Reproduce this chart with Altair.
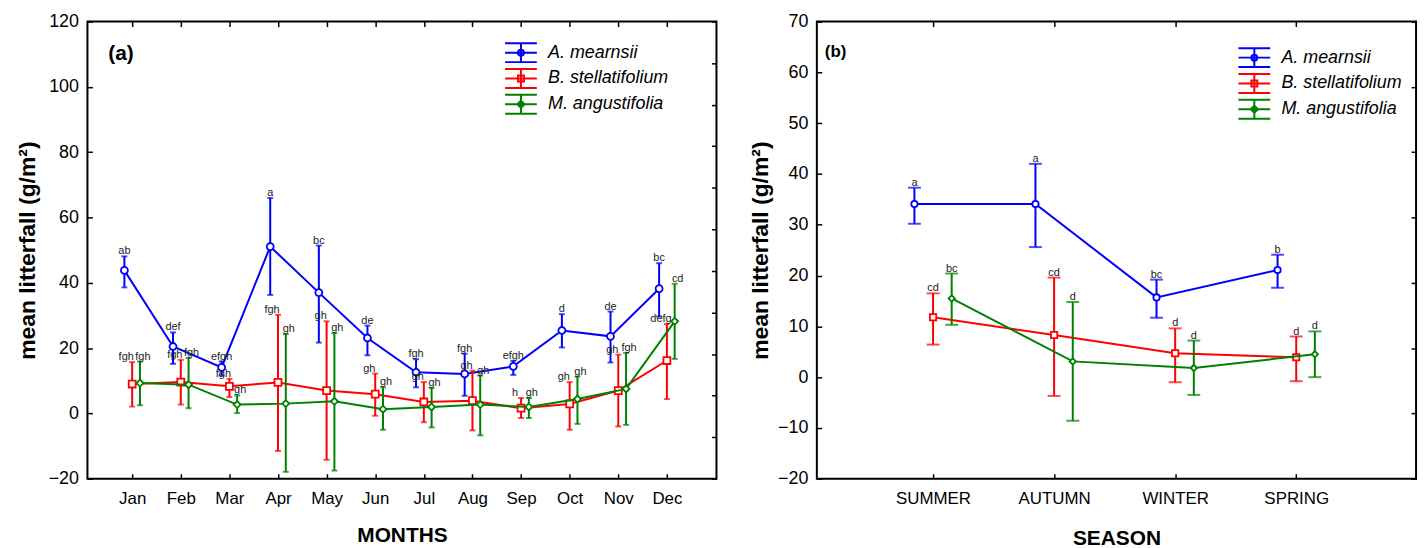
import altair as alt
import pandas as pd

# ---------------- data ----------------
names = ["A. mearnsii", "B. stellatifolium", "M. angustifolia"]

months = ["Jan", "Feb", "Mar", "Apr", "May", "Jun", "Jul", "Aug", "Sep", "Oct", "Nov", "Dec"]
am_mean = [43.8, 20.5, 14.1, 51.1, 37.0, 23.1, 12.6, 12.1, 14.4, 25.4, 23.6, 38.2]
am_lo = [38.6, 15.2, 11.6, 36.3, 21.7, 17.8, 8.0, 5.4, 11.8, 20.2, 15.6, 29.7]
am_hi = [48.1, 24.8, 15.9, 66.0, 51.4, 26.9, 16.6, 18.3, 16.1, 30.4, 31.2, 46.0]
bs_mean = [9.0, 9.6, 8.3, 9.5, 7.0, 5.9, 3.5, 3.9, 1.6, 2.9, 7.0, 16.2]
bs_lo = [2.1, 2.7, 5.0, -11.5, -14.2, -0.7, -2.7, -5.2, -1.4, -5.0, -4.0, 4.4]
bs_hi = [15.7, 16.4, 10.6, 30.2, 28.2, 12.2, 9.6, 13.1, 4.7, 9.6, 18.0, 27.4]
ma_mean = [9.3, 8.8, 2.7, 3.0, 3.7, 1.3, 2.0, 2.7, 2.0, 4.4, 7.5, 28.2]
ma_lo = [2.5, 1.6, 0.1, -17.9, -17.5, -5.0, -4.3, -6.7, -1.4, -3.2, -3.5, 16.7]
ma_hi = [15.9, 17.0, 5.5, 24.3, 24.6, 8.0, 7.8, 11.6, 4.7, 11.3, 18.5, 39.7]
am_let = ["ab", "def", "efgh", "a", "bc", "de", "fgh", "fgh", "efgh", "d", "de", "bc"]
bs_let = ["fgh", "fgh", "fgh", "fgh", "gh", "gh", "gh", "gh", "h", "gh", "gh", "defg"]
ma_let = ["fgh", "fgh", "gh", "gh", "gh", "gh", "gh", "gh", "gh", "gh", "fgh", "cd"]

seasons = ["SUMMER", "AUTUMN", "WINTER", "SPRING"]
s_am_mean = [34.1, 34.1, 15.7, 21.1]
s_am_lo = [30.2, 25.6, 11.7, 17.6]
s_am_hi = [37.3, 42.0, 19.2, 24.1]
s_bs_mean = [11.8, 8.3, 4.7, 3.9]
s_bs_lo = [6.4, -3.7, -1.0, -0.8]
s_bs_hi = [16.5, 19.6, 9.6, 8.0]
s_ma_mean = [15.5, 3.1, 1.8, 4.5]
s_ma_lo = [10.3, -8.6, -3.5, 0.0]
s_ma_hi = [20.4, 14.8, 7.2, 9.0]
s_am_let = ["a", "a", "bc", "b"]
s_bs_let = ["cd", "cd", "d", "d"]
s_ma_let = ["bc", "d", "d", "d"]

y_ticks_a = [-20, 0, 20, 40, 60, 80, 100, 120]
y_ticks_b = [-20, -10, 0, 10, 20, 30, 40, 50, 60, 70]

# ---------------- style ----------------
FONT = "Liberation Sans"
COLORS = ["#0000FF", "#FF0000", "#008000"]
SHAPES = ["circle", "square", "diamond"]
_frame = "M-1.56,-0.93H1.56M-1.56,0H1.56M-1.56,0.93H1.56M0,-0.93V0.93"
LEGEND_PATHS = [
    _frame + "M0.29,0A0.29,0.29,0,1,1,-0.29,0A0.29,0.29,0,1,1,0.29,0Z",
    _frame + "M-0.29,-0.29H0.29V0.29H-0.29Z",
    _frame + "M0,-0.35L0.35,0L0,0.35L-0.35,0Z",
]


def build_df(cats, means, los, his, lets, dodge):
    rows = []
    for s, name in enumerate(names):
        for i in range(len(cats)):
            rows.append(dict(series=name, idx=i + 1, pos=i + 1 + dodge[s],
                             mean=means[s][i], lo=los[s][i], hi=his[s][i], let=lets[s][i]))
    return pd.DataFrame(rows)


df_a = build_df(months, [am_mean, bs_mean, ma_mean], [am_lo, bs_lo, ma_lo],
                [am_hi, bs_hi, ma_hi], [am_let, bs_let, ma_let], [-0.16, 0.0, 0.16])
df_b = build_df(seasons, [s_am_mean, s_bs_mean, s_ma_mean], [s_am_lo, s_bs_lo, s_ma_lo],
                [s_am_hi, s_bs_hi, s_ma_hi], [s_am_let, s_bs_let, s_ma_let], [-0.154, 0.0, 0.154])


def panel(df, cats, xdom, ydom, yvals, W, H, xtitle, tag, tag_xy, tag_size,
          cap, msize, right_n, leg_xy, title_pad, ytitle_pad, label_dx):
    xs = alt.Scale(domain=xdom, nice=False, zero=False)
    ys = alt.Scale(domain=ydom, nice=False, zero=False)
    label_expr = "[" + ",".join("'%s'" % c for c in cats) + "][datum.value-1]"
    cat_vals = list(range(1, len(cats) + 1))
    xaxis = alt.Axis(values=cat_vals, labelExpr=label_expr, title=xtitle, offset=-5,
                     tickSize=5, domain=False, grid=False, labelPadding=12,
                     labelFontSize=17, titleFontSize=21, titleFontWeight="bold",
                     titlePadding=title_pad, labelFlush=False)
    yaxis = alt.Axis(values=yvals, title="mean litterfall (g/m²)", offset=-5, tickSize=5,
                     domain=False, grid=False, labelPadding=9, labelFontSize=18,
                     titleFontSize=23, titleFontWeight="bold", titlePadding=ytitle_pad)
    X = alt.X("pos:Q", scale=xs, axis=xaxis)
    layers = []
    for s, name in enumerate(names):
        base = alt.Chart(df).transform_filter(alt.datum.series == name)
        col = COLORS[s]
        layers.append(base.mark_line(color=col, strokeWidth=2).encode(
            x=X, y=alt.Y("mean:Q", scale=ys, axis=yaxis)))
        layers.append(base.mark_rule(color=col, strokeWidth=2).encode(
            x=X, y=alt.Y("lo:Q", scale=ys, axis=yaxis), y2="hi:Q"))
        layers.append(base.transform_fold(["lo", "hi"], as_=["end", "v"]).mark_tick(
            color=col, orient="horizontal", size=cap, thickness=2).encode(
            x=X, y=alt.Y("v:Q", scale=ys, axis=yaxis)))
        layers.append(base.mark_point(shape=SHAPES[s], filled=True, fill="white", stroke=col,
                                      strokeWidth=1.8, size=msize, opacity=1).encode(
            x=X, y=alt.Y("mean:Q", scale=ys, axis=yaxis)))
        layers.append(base.mark_text(baseline="bottom", fontSize=11, color="#222222", dy=0,
                                     dx=label_dx[s]).encode(
            x=X, y=alt.Y("hi:Q", scale=ys, axis=yaxis), text="let:N"))
    leg = alt.Legend(orient="none", legendX=leg_xy[0], legendY=leg_xy[1], title=None,
                     labelFont=FONT, labelFontSize=18, labelFontStyle="italic",
                     labelColor="black", symbolSize=420, symbolStrokeWidth=2,
                     labelOffset=15.75, rowPadding=-3.5, padding=0)
    legend_layer = alt.Chart(df).transform_filter("false").mark_point(
        filled=False, strokeWidth=2, opacity=1).encode(
        color=alt.Color("series:N", scale=alt.Scale(domain=names, range=COLORS), legend=leg),
        shape=alt.Shape("series:N", scale=alt.Scale(domain=names, range=LEGEND_PATHS), legend=leg))
    tag_layer = alt.Chart(pd.DataFrame({"t": [tag]})).mark_text(
        align="left", baseline="middle", fontWeight="bold", fontSize=tag_size, color="black").encode(
        text="t:N", x=alt.value(tag_xy[0]), y=alt.value(tag_xy[1]))
    inner = alt.layer(*layers, legend_layer, tag_layer)
    top_ticks = alt.Chart(df).transform_filter("false").mark_point(opacity=0).encode(
        x=alt.X("pos:Q", scale=xs, axis=alt.Axis(orient="top", values=cat_vals, labels=False,
                                                  title=None, offset=-5, tickSize=5,
                                                  domain=False, grid=False)),
        y=alt.Y("mean:Q", scale=ys, axis=None))
    right_ticks = alt.Chart(df).transform_filter("false").mark_point(opacity=0).encode(
        x=alt.X("pos:Q", scale=xs, axis=None),
        y=alt.Y("mean:Q", scale=alt.Scale(domain=[0, right_n], nice=False, zero=False),
                axis=alt.Axis(orient="right", values=list(range(right_n + 1)), labels=False,
                              title=None, offset=-5, tickSize=5, domain=False, grid=False)))
    return alt.layer(inner, top_ticks, right_ticks).resolve_scale(
        x="independent", y="independent").properties(width=W, height=H)


left = panel(df_a, months, [0.08, 13.02], [-20, 120], y_ticks_a, 633, 460, "MONTHS", "(a)",
             (21, 33), 21, 6, 49, 11, (424.75, 19.75), 18, 9, [0, -6, 3])
right = panel(df_b, seasons, [0.04, 4.99], [-20, 70], y_ticks_b, 603, 460, "SEASON", "(b)",
              (8, 31), 17, 13, 40, 7, (428.75, 24.75), 21, 5, [0, 0, 0])

chart = alt.hconcat(left, right, spacing=30).resolve_scale(
    color="independent", shape="independent").resolve_legend(
    color="independent", shape="independent").properties(
    padding={"left": 15, "top": 10, "right": 8, "bottom": 0}).configure(
    font=FONT).configure_view(stroke="black", strokeWidth=2).configure_axis(
    labelFont=FONT, titleFont=FONT, labelColor="black", titleColor="black",
    tickColor="black", tickWidth=1.5)

chart.save("out.html", embed_options={"renderer": "svg", "actions": False})
